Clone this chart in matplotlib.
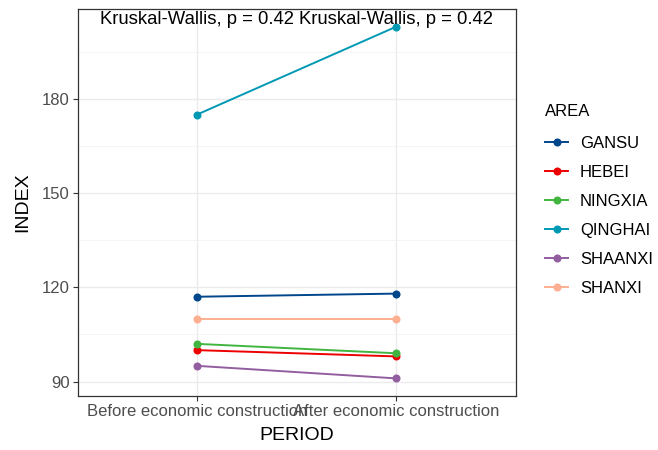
import matplotlib
matplotlib.use("Agg")
import matplotlib.pyplot as plt
from matplotlib.ticker import MultipleLocator

plt.rcParams['font.family'] = ['Liberation Sans', 'DejaVu Sans']

periods = ["Before economic construction", "After economic construction"]
areas = ["GANSU", "HEBEI", "NINGXIA", "QINGHAI", "SHAANXI", "SHANXI"]
gansu = [117, 118]
hebei = [100, 98]
ningxia = [102, 99]
qinghai = [175, 203]
shaanxi = [95, 91]
shanxi = [110, 110]
series = [gansu, hebei, ningxia, qinghai, shaanxi, shanxi]
colors = ["#00468B", "#ED0000", "#42B540", "#0099B4", "#925E9F", "#FDAF91"]
test_label = "Kruskal-Wallis, p = 0.42"

fig = plt.figure(figsize=(6.58, 4.5), dpi=100)
ax = fig.add_axes([77.5 / 658, 1 - 396 / 450, (516 - 77.5) / 658, (396 - 9) / 450])

xs = list(range(1, len(periods) + 1))
for name, vals, c in zip(areas, series, colors):
    ax.plot(xs, vals, color=c, lw=1.4, marker='o', markersize=5.8,
            markeredgewidth=0, label=name, zorder=3)

ax.set_xlim(0.4, 2.6)
ax.set_ylim(85.4, 208.6)
ax.set_xticks(xs)
ax.set_xticklabels(periods)
ax.yaxis.set_major_locator(MultipleLocator(30))
ax.yaxis.set_minor_locator(MultipleLocator(15))
ax.set_axisbelow(True)
ax.grid(which='major', color='#EBEBEB', lw=1.0)
ax.grid(which='minor', axis='y', color='#F2F2F2', lw=0.6)
ax.tick_params(which='major', length=3.5, width=0.8, color='#333333',
               labelsize=12, labelcolor='#4D4D4D', pad=2)
ax.tick_params(which='minor', length=0)
for s in ax.spines.values():
    s.set_color('#333333')
    s.set_linewidth(0.9)

for x in xs:
    ax.text(x, 205.2, test_label, ha='center', va='center', fontsize=13.3,
            color='black', zorder=4)

ax.set_xlabel("PERIOD", fontsize=14, labelpad=6)
ax.set_ylabel("INDEX", fontsize=14, labelpad=8)

leg = ax.legend(title="AREA", loc='upper left', bbox_to_anchor=(545 / 658, 1 - 104 / 450),
                bbox_transform=fig.transFigure, frameon=False, fontsize=12,
                title_fontsize=12, handlelength=1.4, handletextpad=0.7,
                labelspacing=0.84, borderaxespad=0, borderpad=0)
leg._legend_box.align = "left"
leg._legend_box.sep = 12

fig.savefig("out.png", dpi=100)
